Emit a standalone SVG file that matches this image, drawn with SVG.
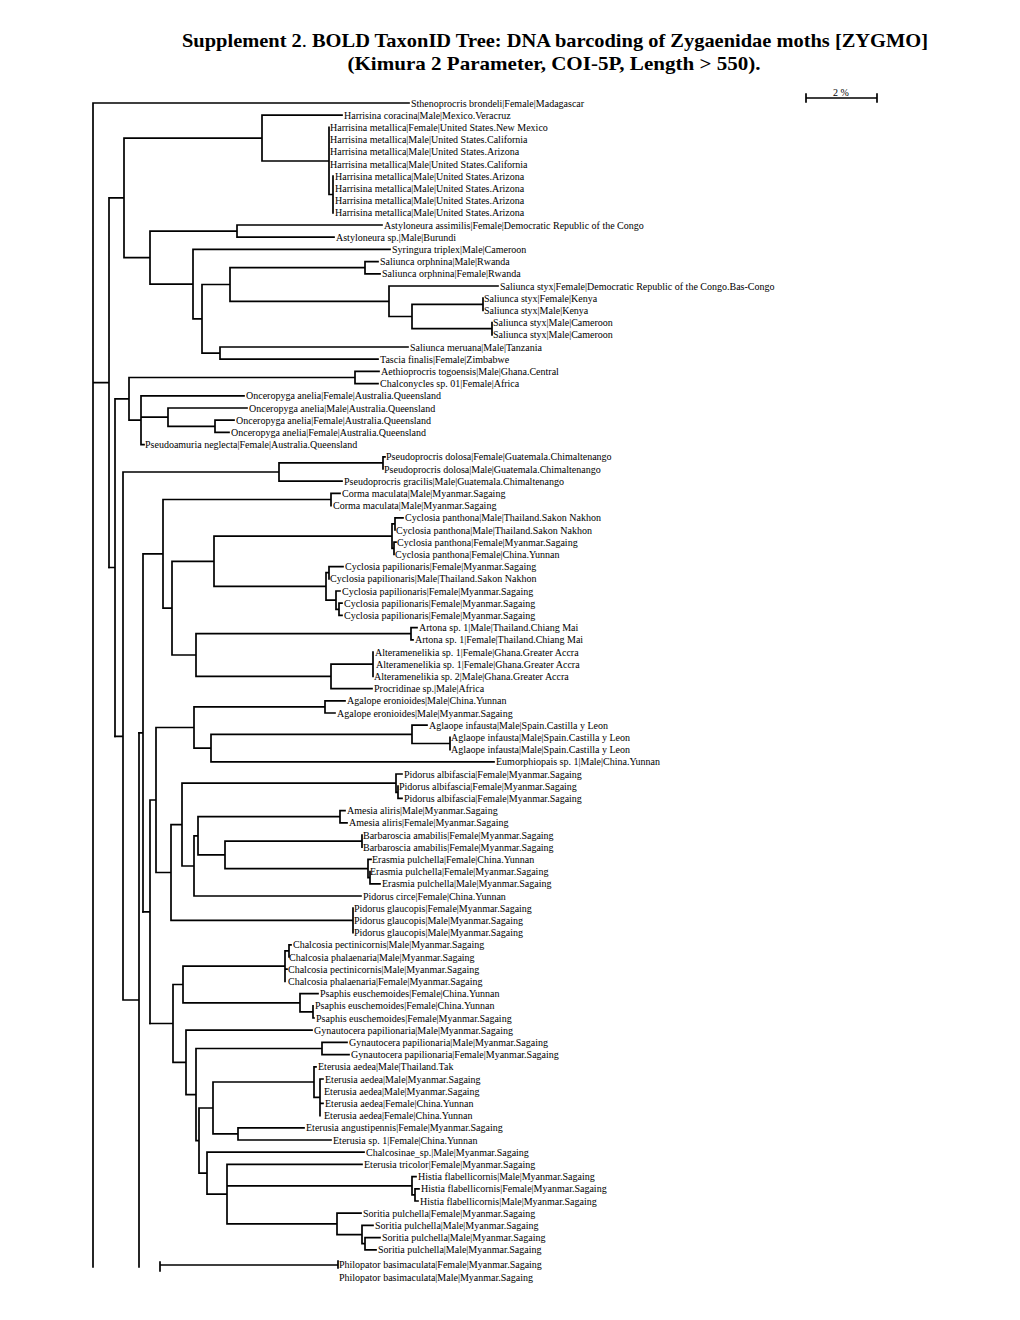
<svg xmlns="http://www.w3.org/2000/svg" width="1020" height="1320" viewBox="0 0 1020 1320">
<style>
.t{font-family:"Liberation Serif","Times New Roman",serif;font-size:10px;fill:#000}
.h{font-family:"Liberation Serif","Times New Roman",serif;font-size:19.5px;font-weight:bold;fill:#000}
.c{fill:none;stroke:#000;stroke-width:1.7;stroke-linecap:square}
</style>
<rect width="1020" height="1320" fill="#fff"/>
<g id="title">
<text class="h" x="555" y="47" text-anchor="middle" textLength="746" lengthAdjust="spacingAndGlyphs">Supplement 2<tspan font-weight="normal">.</tspan> BOLD TaxonID Tree: DNA barcoding of Zygaenidae moths [ZYGMO]</text>
<text class="h" x="554" y="70" text-anchor="middle" textLength="413" lengthAdjust="spacingAndGlyphs">(Kimura 2 Parameter, COI-5P, Length &gt; 550).</text>
</g>
<g id="scalebar">
<path class="c" d="M806 98H877M806 94V102M877 94V102"/>
<text class="t" x="841" y="96" text-anchor="middle" font-size="9">2 %</text>
</g>
<g id="connectors">
<path class="c" d="M93 103V1267M93 103H409M93 382.7H109M109 197.9V567.5
M109 197.9H124M124 138.1V257.6M124 138.1H262M262 115.2V161M262 115.2H342M262 161H329M329 127.4V194.5M329 194.5H333M333 176.2V212.8
M124 257.6H150M150 231.1V284.1M150 231.1H237M237 225V237.2M237 225H382M237 237.2H334
M150 284.1H193M193 249.4V318.8M193 249.4H390M193 318.8H202M202 284.5V353.1M202 284.5H230M230 267.7V301.3
M230 267.7H365M365 261.6V273.8M365 261.6H378M365 273.8H380
M230 301.3H389M389 286V316.5M389 286H498M389 316.5H412M412 304.3V328.7M412 304.3H483M483 298.2V310.4M412 328.7H492M492 322.6V334.8
M202 353.1H220M220 347V359.2M220 347H408M220 359.2H378"/>
<path class="c" d="M109 567.5H115M115 398.9V736.4M115 398.9H129M129 377.5V420.2M129 377.5H355M355 371.4V383.6M355 371.4H379M355 383.6H378
M129 420.2H141M141 395.8V444.6M141 395.8H244M141 444.6H144M141 417.2H168M168 408V426.3M168 408H247M168 426.3H215M215 420.2V432.4M215 420.2H234M215 432.4H229"/>
<path class="c" d="M115 736.4H123M123 472V1000M123 472H279M279 462.9V481.2M279 481.2H342M279 462.9H383M383 456.8V469M383 456.8H385M123 1000H139M139 732.8V1267"/>
<path class="c" d="M139 732.8H143M143 553.9V911.8M143 553.9H163M163 499.5V608.2M163 499.5H331M331 493.4V505.6M331 493.4H340
M163 608.2H172M172 561.3V655M172 561.3H214M214 536.1V586.4M214 536.1H392M392 523.9V548.3M392 523.9H395M395 517.8V530M395 517.8H403M392 548.3H394M394 542.2V554.4M394 542.2H396
M214 586.4H326M326 572.7V600.2M326 572.7H329M329 566.6V578.8M329 566.6H343M326 600.2H336M336 591V609.3M336 591H340M336 609.3H339M339 603.2V615.4M339 603.2H342M339 615.4H342
M172 655H196M196 633.7V676.4M196 633.7H411M411 627.6V639.8M411 627.6H417M411 639.8H413M196 676.4H331M331 664.2V688.6M331 664.2H373M373 652V676.4M331 688.6H372"/>
<path class="c" d="M143 911.8H150M150 800V1023.5M150 800H156M156 727.5V872.5M156 727.5H194M194 706.9V748.1M194 706.9H325M325 700.8V713M325 700.8H345M325 713H335
M194 748.1H211M211 734.4V761.8M211 761.8H494M211 734.4H412M412 725.2V743.5M412 725.2H427M412 743.5H450M450 737.4V749.6
M156 872.5H171M171 824.6V920.4M171 824.6H182M182 783.2V866M182 783.2H396M396 774V792.3M396 774H402M396 792.3H398M398 786.2V798.4M398 798.4H402
M182 866H194M194 835.8V896M194 896H361M194 835.8H198M198 816.7V854.8M198 816.7H340M340 810.6V822.8M340 810.6H345M340 822.8H347
M198 854.8H225M225 841.1V868.6M225 841.1H362M362 835V847.2M225 868.6H368M368 859.4V877.7M368 859.4H371M368 877.7H370M370 871.6V883.8M370 883.8H380
M171 920.4H353M353 908.2V932.6"/>
<path class="c" d="M150 1023.5H173M173 984.5V1062.4M173 984.5H183M183 966.2V1002.8M183 966.2H285M285 950.9V981.4M285 950.9H289M289 944.8V957M289 944.8H291M285 969.2H287
M183 1002.8H300M300 993.6V1011.9M300 993.6H318M300 1011.9H313M313 1005.8V1018M313 1018H314
M173 1062.4H186M186 1030.2V1094.6M186 1030.2H312M186 1094.6H196M196 1048.5V1140.6M196 1048.5H322M322 1042.4V1054.6M322 1042.4H347M322 1054.6H349
M196 1140.6H199M199 1108V1173.2M199 1108H213M213 1082V1133.9M213 1082H314M314 1066.8V1097.3M314 1066.8H316M314 1097.3H320M320 1079V1115.6M320 1079H323M320 1103.4H323
M213 1133.9H238M238 1127.8V1140M238 1127.8H304M238 1140H331
M199 1173.2H207M207 1152.2V1194.2M207 1152.2H364M207 1194.2H227M227 1164.4V1223.9M227 1164.4H362
M227 1185.8H412M412 1176.6V1194.9M412 1176.6H416M412 1194.9H415M415 1188.8V1201M415 1188.8H419M415 1201H418
M227 1223.9H337M337 1213.2V1234.6M337 1213.2H361M337 1234.6H362M362 1225.4V1243.7M362 1225.4H373M362 1243.7H365M365 1237.6V1249.8M365 1237.6H380M365 1249.8H376"/>
<path class="c" d="M160 1265H338M160 1262V1271M338 1261V1268"/>
</g>
<g id="n1"><text class="t" x="411" y="106.5">Sthenoprocris brondeli|Female|Madagascar</text></g>
<g id="n2"><text class="t" x="344" y="118.7">Harrisina coracina|Male|Mexico.Veracruz</text></g>
<g id="n3"><text class="t" x="330" y="130.9">Harrisina metallica|Female|United States.New Mexico</text></g>
<g id="n4"><text class="t" x="330" y="143.1">Harrisina metallica|Male|United States.California</text></g>
<g id="n5"><text class="t" x="330" y="155.3">Harrisina metallica|Male|United States.Arizona</text></g>
<g id="n6"><text class="t" x="330" y="167.5">Harrisina metallica|Male|United States.California</text></g>
<g id="n7"><text class="t" x="335" y="179.7">Harrisina metallica|Male|United States.Arizona</text></g>
<g id="n8"><text class="t" x="335" y="191.9">Harrisina metallica|Male|United States.Arizona</text></g>
<g id="n9"><text class="t" x="335" y="204.1">Harrisina metallica|Male|United States.Arizona</text></g>
<g id="n10"><text class="t" x="335" y="216.3">Harrisina metallica|Male|United States.Arizona</text></g>
<g id="n11"><text class="t" x="384" y="228.5">Astyloneura assimilis|Female|Democratic Republic of the Congo</text></g>
<g id="n12"><text class="t" x="336" y="240.7">Astyloneura sp.|Male|Burundi</text></g>
<g id="n13"><text class="t" x="392" y="252.9">Syringura triplex|Male|Cameroon</text></g>
<g id="n14"><text class="t" x="380" y="265.1">Saliunca orphnina|Male|Rwanda</text></g>
<g id="n15"><text class="t" x="382" y="277.3">Saliunca orphnina|Female|Rwanda</text></g>
<g id="n16"><text class="t" x="500" y="289.5">Saliunca styx|Female|Democratic Republic of the Congo.Bas-Congo</text></g>
<g id="n17"><text class="t" x="484" y="301.7">Saliunca styx|Female|Kenya</text></g>
<g id="n18"><text class="t" x="484" y="313.9">Saliunca styx|Male|Kenya</text></g>
<g id="n19"><text class="t" x="493" y="326.1">Saliunca styx|Male|Cameroon</text></g>
<g id="n20"><text class="t" x="493" y="338.3">Saliunca styx|Male|Cameroon</text></g>
<g id="n21"><text class="t" x="410" y="350.5">Saliunca meruana|Male|Tanzania</text></g>
<g id="n22"><text class="t" x="380" y="362.7">Tascia finalis|Female|Zimbabwe</text></g>
<g id="n23"><text class="t" x="381" y="374.9">Aethioprocris togoensis|Male|Ghana.Central</text></g>
<g id="n24"><text class="t" x="380" y="387.1">Chalconycles sp. 01|Female|Africa</text></g>
<g id="n25"><text class="t" x="246" y="399.3">Onceropyga anelia|Female|Australia.Queensland</text></g>
<g id="n26"><text class="t" x="249" y="411.5">Onceropyga anelia|Male|Australia.Queensland</text></g>
<g id="n27"><text class="t" x="236" y="423.7">Onceropyga anelia|Female|Australia.Queensland</text></g>
<g id="n28"><text class="t" x="231" y="435.9">Onceropyga anelia|Female|Australia.Queensland</text></g>
<g id="n29"><text class="t" x="145" y="448.1">Pseudoamuria neglecta|Female|Australia.Queensland</text></g>
<g id="n30"><text class="t" x="386" y="460.3">Pseudoprocris dolosa|Female|Guatemala.Chimaltenango</text></g>
<g id="n31"><text class="t" x="384" y="472.5">Pseudoprocris dolosa|Male|Guatemala.Chimaltenango</text></g>
<g id="n32"><text class="t" x="344" y="484.7">Pseudoprocris gracilis|Male|Guatemala.Chimaltenango</text></g>
<g id="n33"><text class="t" x="342" y="496.9">Corma maculata|Male|Myanmar.Sagaing</text></g>
<g id="n34"><text class="t" x="333" y="509.1">Corma maculata|Male|Myanmar.Sagaing</text></g>
<g id="n35"><text class="t" x="405" y="521.3">Cyclosia panthona|Male|Thailand.Sakon Nakhon</text></g>
<g id="n36"><text class="t" x="396" y="533.5">Cyclosia panthona|Male|Thailand.Sakon Nakhon</text></g>
<g id="n37"><text class="t" x="397" y="545.7">Cyclosia panthona|Female|Myanmar.Sagaing</text></g>
<g id="n38"><text class="t" x="395" y="557.9">Cyclosia panthona|Female|China.Yunnan</text></g>
<g id="n39"><text class="t" x="345" y="570.1">Cyclosia papilionaris|Female|Myanmar.Sagaing</text></g>
<g id="n40"><text class="t" x="330" y="582.3">Cyclosia papilionaris|Male|Thailand.Sakon Nakhon</text></g>
<g id="n41"><text class="t" x="342" y="594.5">Cyclosia papilionaris|Female|Myanmar.Sagaing</text></g>
<g id="n42"><text class="t" x="344" y="606.7">Cyclosia papilionaris|Female|Myanmar.Sagaing</text></g>
<g id="n43"><text class="t" x="344" y="618.9">Cyclosia papilionaris|Female|Myanmar.Sagaing</text></g>
<g id="n44"><text class="t" x="419" y="631.1">Artona sp. 1|Male|Thailand.Chiang Mai</text></g>
<g id="n45"><text class="t" x="415" y="643.3">Artona sp. 1|Female|Thailand.Chiang Mai</text></g>
<g id="n46"><text class="t" x="375" y="655.5">Alteramenelikia sp. 1|Female|Ghana.Greater Accra</text></g>
<g id="n47"><text class="t" x="376" y="667.7">Alteramenelikia sp. 1|Female|Ghana.Greater Accra</text></g>
<g id="n48"><text class="t" x="374" y="679.9">Alteramenelikia sp. 2|Male|Ghana.Greater Accra</text></g>
<g id="n49"><text class="t" x="374" y="692.1">Procridinae sp.|Male|Africa</text></g>
<g id="n50"><text class="t" x="347" y="704.3">Agalope eronioides|Male|China.Yunnan</text></g>
<g id="n51"><text class="t" x="337" y="716.5">Agalope eronioides|Male|Myanmar.Sagaing</text></g>
<g id="n52"><text class="t" x="429" y="728.7">Aglaope infausta|Male|Spain.Castilla y Leon</text></g>
<g id="n53"><text class="t" x="451" y="740.9">Aglaope infausta|Male|Spain.Castilla y Leon</text></g>
<g id="n54"><text class="t" x="451" y="753.1">Aglaope infausta|Male|Spain.Castilla y Leon</text></g>
<g id="n55"><text class="t" x="496" y="765.3">Eumorphiopais sp. 1|Male|China.Yunnan</text></g>
<g id="n56"><text class="t" x="404" y="777.5">Pidorus albifascia|Female|Myanmar.Sagaing</text></g>
<g id="n57"><text class="t" x="399" y="789.7">Pidorus albifascia|Female|Myanmar.Sagaing</text></g>
<g id="n58"><text class="t" x="404" y="801.9">Pidorus albifascia|Female|Myanmar.Sagaing</text></g>
<g id="n59"><text class="t" x="347" y="814.1">Amesia aliris|Male|Myanmar.Sagaing</text></g>
<g id="n60"><text class="t" x="349" y="826.3">Amesia aliris|Female|Myanmar.Sagaing</text></g>
<g id="n61"><text class="t" x="363" y="838.5">Barbaroscia amabilis|Female|Myanmar.Sagaing</text></g>
<g id="n62"><text class="t" x="363" y="850.7">Barbaroscia amabilis|Female|Myanmar.Sagaing</text></g>
<g id="n63"><text class="t" x="372" y="862.9">Erasmia pulchella|Female|China.Yunnan</text></g>
<g id="n64"><text class="t" x="370" y="875.1">Erasmia pulchella|Female|Myanmar.Sagaing</text></g>
<g id="n65"><text class="t" x="382" y="887.3">Erasmia pulchella|Male|Myanmar.Sagaing</text></g>
<g id="n66"><text class="t" x="363" y="899.5">Pidorus circe|Female|China.Yunnan</text></g>
<g id="n67"><text class="t" x="354" y="911.7">Pidorus glaucopis|Female|Myanmar.Sagaing</text></g>
<g id="n68"><text class="t" x="354" y="923.9">Pidorus glaucopis|Male|Myanmar.Sagaing</text></g>
<g id="n69"><text class="t" x="354" y="936.1">Pidorus glaucopis|Male|Myanmar.Sagaing</text></g>
<g id="n70"><text class="t" x="293" y="948.3">Chalcosia pectinicornis|Male|Myanmar.Sagaing</text></g>
<g id="n71"><text class="t" x="289" y="960.5">Chalcosia phalaenaria|Male|Myanmar.Sagaing</text></g>
<g id="n72"><text class="t" x="288" y="972.7">Chalcosia pectinicornis|Male|Myanmar.Sagaing</text></g>
<g id="n73"><text class="t" x="288" y="984.9">Chalcosia phalaenaria|Female|Myanmar.Sagaing</text></g>
<g id="n74"><text class="t" x="320" y="997.1">Psaphis euschemoides|Female|China.Yunnan</text></g>
<g id="n75"><text class="t" x="315" y="1009.3">Psaphis euschemoides|Female|China.Yunnan</text></g>
<g id="n76"><text class="t" x="316" y="1021.5">Psaphis euschemoides|Female|Myanmar.Sagaing</text></g>
<g id="n77"><text class="t" x="314" y="1033.7">Gynautocera papilionaria|Male|Myanmar.Sagaing</text></g>
<g id="n78"><text class="t" x="349" y="1045.9">Gynautocera papilionaria|Male|Myanmar.Sagaing</text></g>
<g id="n79"><text class="t" x="351" y="1058.1">Gynautocera papilionaria|Female|Myanmar.Sagaing</text></g>
<g id="n80"><text class="t" x="318" y="1070.3">Eterusia aedea|Male|Thailand.Tak</text></g>
<g id="n81"><text class="t" x="325" y="1082.5">Eterusia aedea|Male|Myanmar.Sagaing</text></g>
<g id="n82"><text class="t" x="324" y="1094.7">Eterusia aedea|Male|Myanmar.Sagaing</text></g>
<g id="n83"><text class="t" x="325" y="1106.9">Eterusia aedea|Female|China.Yunnan</text></g>
<g id="n84"><text class="t" x="324" y="1119.1">Eterusia aedea|Female|China.Yunnan</text></g>
<g id="n85"><text class="t" x="306" y="1131.3">Eterusia angustipennis|Female|Myanmar.Sagaing</text></g>
<g id="n86"><text class="t" x="333" y="1143.5">Eterusia sp. 1|Female|China.Yunnan</text></g>
<g id="n87"><text class="t" x="366" y="1155.7">Chalcosinae_sp.|Male|Myanmar.Sagaing</text></g>
<g id="n88"><text class="t" x="364" y="1167.9">Eterusia tricolor|Female|Myanmar.Sagaing</text></g>
<g id="n89"><text class="t" x="418" y="1180.1">Histia flabellicornis|Male|Myanmar.Sagaing</text></g>
<g id="n90"><text class="t" x="421" y="1192.3">Histia flabellicornis|Female|Myanmar.Sagaing</text></g>
<g id="n91"><text class="t" x="420" y="1204.5">Histia flabellicornis|Male|Myanmar.Sagaing</text></g>
<g id="n92"><text class="t" x="363" y="1216.7">Soritia pulchella|Female|Myanmar.Sagaing</text></g>
<g id="n93"><text class="t" x="375" y="1228.9">Soritia pulchella|Male|Myanmar.Sagaing</text></g>
<g id="n94"><text class="t" x="382" y="1241.1">Soritia pulchella|Male|Myanmar.Sagaing</text></g>
<g id="n95"><text class="t" x="378" y="1253.3">Soritia pulchella|Male|Myanmar.Sagaing</text></g>
<g id="n96"><text class="t" x="339" y="1267.5">Philopator basimaculata|Female|Myanmar.Sagaing</text></g>
<g id="n97"><text class="t" x="339" y="1280.5">Philopator basimaculata|Male|Myanmar.Sagaing</text></g>
</svg>
